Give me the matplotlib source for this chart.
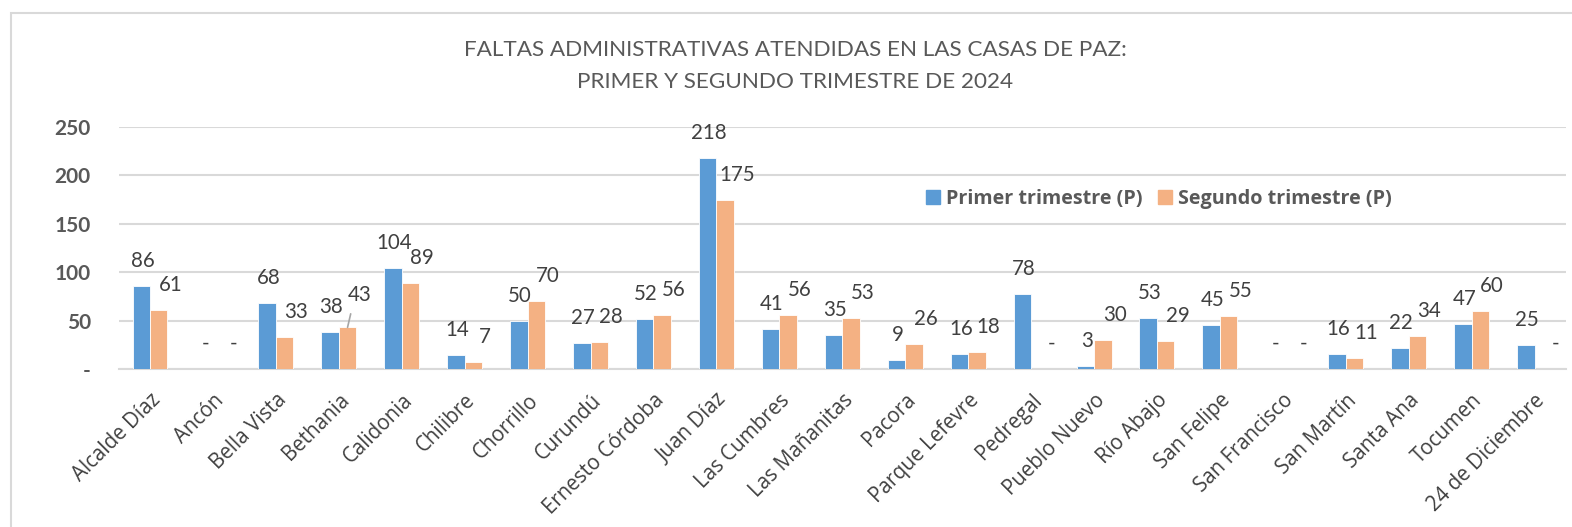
import numpy as np
import matplotlib
matplotlib.use('Agg')
import matplotlib.pyplot as plt
from matplotlib.patches import Rectangle, Patch

# ---------------------------------------------------------------------------
# Data (None = no record, shown as "-")
# ---------------------------------------------------------------------------
corregimientos = ['Alcalde Díaz', 'Ancón', 'Bella Vista', 'Bethania', 'Calidonia',
                  'Chilibre', 'Chorrillo', 'Curundú', 'Ernesto Córdoba', 'Juan Díaz',
                  'Las Cumbres', 'Las Mañanitas', 'Pacora', 'Parque Lefevre',
                  'Pedregal', 'Pueblo Nuevo', 'Río Abajo', 'San Felipe',
                  'San Francisco', 'San Martín', 'Santa Ana', 'Tocumen',
                  '24 de Diciembre']
primer_trim = [86, None, 68, 38, 104, 14, 50, 27, 52, 218, 41, 35, 9, 16,
               78, 3, 53, 45, None, 16, 22, 47, 25]
segundo_trim = [61, None, 33, 43, 89, 7, 70, 28, 56, 175, 56, 53, 26, 18,
                None, 30, 29, 55, None, 11, 34, 60, None]
y_ticks = [0, 50, 100, 150, 200, 250]
y_tick_labels = ['-', '50', '100', '150', '200', '250']

COLOR_P1 = '#5B9BD5'
COLOR_P2 = '#F4B183'
TEXT_DARK = '#404040'
TEXT_GRAY = '#595959'
GRID = '#D9D9D9'

fig = plt.figure(figsize=(15.72, 5.27), dpi=100)
ax = fig.add_axes([0.0754, 0.2998, 0.9208, 0.4592])

# outer chart border (runs off the right/bottom edge like the source)
fig.patches.append(Rectangle((11 / 1572, -0.05), 1.2, 1 - 13 / 527 + 0.05,
                             transform=fig.transFigure, fill=False,
                             edgecolor=GRID, linewidth=1.5))

x = np.arange(len(corregimientos))
w = 0.278
v1 = np.array([np.nan if v is None else v for v in primer_trim], dtype=float)
v2 = np.array([np.nan if v is None else v for v in segundo_trim], dtype=float)

ax.bar(x - w / 2, np.nan_to_num(v1), w, color=COLOR_P1, edgecolor='white',
       linewidth=0.6, zorder=3)
ax.bar(x + w / 2, np.nan_to_num(v2), w, color=COLOR_P2, edgecolor='white',
       linewidth=0.6, zorder=3)

label_font = dict(fontsize=14.8, color=TEXT_DARK, family='Lato',
                  ha='center', va='center')
bethania = corregimientos.index('Bethania')


def add_labels(xs, vals, dx, lifted=()):
    for k, (xi, v) in enumerate(zip(xs, vals)):
        txt = '-' if np.isnan(v) else f'{int(v)}'
        dy = 23.5 if k in lifted else 18
        ax.annotate(txt, (xi, 0 if np.isnan(v) else v),
                    xytext=(dx, dy), textcoords='offset points', **label_font)


add_labels(x - w / 2, v1, 1)
add_labels(x + w / 2, v2, 8.5, lifted=(bethania,))

# Bethania: label pulled up with a leader line
ax.annotate('', (x[bethania] + w / 2, v2[bethania]),
            xytext=(x[bethania] + w / 2 + 0.05, v2[bethania] + 14),
            arrowprops=dict(arrowstyle='-', color='#A6A6A6', lw=1.2,
                            shrinkA=0, shrinkB=0))

ax.set_xlim(-0.5, len(corregimientos) - 0.5)
ax.set_ylim(0, 250)
ax.set_yticks(y_ticks)
ax.set_yticklabels(y_tick_labels, fontsize=15, fontweight='bold',
                   color=TEXT_GRAY, family='Lato')
ax.set_xticks(x)
ax.set_xticklabels(corregimientos, rotation=45, ha='right',
                   rotation_mode='anchor', fontsize=14.8, color=TEXT_DARK,
                   family='Open Sans')
ax.tick_params(axis='both', length=0)
ax.tick_params(axis='y', pad=20)
ax.tick_params(axis='x', pad=15)

ax.grid(axis='y', color=GRID, linewidth=1.5, zorder=0)
for s in ['top', 'right', 'left']:
    ax.spines[s].set_visible(False)
ax.spines['bottom'].set_color(GRID)
ax.spines['bottom'].set_linewidth(1.5)

fig.text(0.5057, 1 - 50 / 527, 'FALTAS ADMINISTRATIVAS ATENDIDAS EN LAS CASAS DE PAZ:',
         ha='center', va='center', fontsize=16.2, color=TEXT_GRAY, family='Lato')
fig.text(0.5057, 1 - 82 / 527, 'PRIMER Y SEGUNDO TRIMESTRE DE 2024',
         ha='center', va='center', fontsize=16.2, color=TEXT_GRAY, family='Lato')

handles = [Patch(color=COLOR_P1, label='Primer trimestre (P)'),
           Patch(color=COLOR_P2, label='Segundo trimestre (P)')]
fig.legend(handles=handles, loc='center left',
           bbox_to_anchor=(912 / 1572, 1 - 199 / 527), ncol=2, frameon=False,
           handlelength=0.7, handleheight=0.7, handletextpad=0.3,
           columnspacing=0.8, borderpad=0.2,
           prop=dict(family='Open Sans', weight='bold', size=14.2),
           labelcolor=TEXT_GRAY)

fig.savefig('out.png', dpi=100)
